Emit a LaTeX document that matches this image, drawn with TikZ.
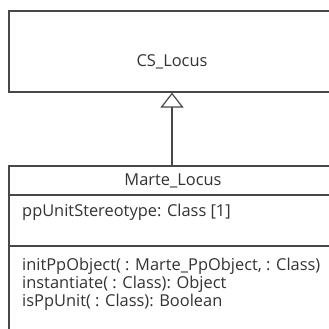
\documentclass[tikz,border=0pt]{standalone}
\usepackage{fontspec}
\setmainfont{Open Sans}
\usepackage{tikz}
\usetikzlibrary{arrows.meta, positioning}
\definecolor{umlline}{HTML}{484848}
\definecolor{umltext}{HTML}{333333}
\tikzstyle{classbox} = [rectangle, draw=umlline, line width=1.2pt, fill=white, minimum width=327pt, inner sep=0pt]
\tikzstyle{cname} = [font=\fontsize{16.4}{19}\selectfont, text=umltext, inner sep=0pt]
\tikzstyle{member} = [font=\fontsize{16.4}{19}\selectfont, text=umltext, inner sep=0pt, anchor=west]
\tikzstyle{gen} = [-{Triangle[open, length=15pt, width=23pt]}, line width=1.2pt, draw=umlline]

\begin{document}
\begin{tikzpicture}[x=1pt, y=-1pt]
  \useasboundingbox (0,0) rectangle (329,329);
  % superclass
  \node[classbox, minimum height=81pt] (cs) at (172.5,51.5) {};
  \node[cname] (csname) at (172,62) {CS\_Locus};
  % subclass with its compartments
  \node[classbox, minimum height=180pt] (marte) at (172.5,256) {};
  \node[cname] (martename) at (173,181) {Marte\_Locus};
  \draw[umlline, line width=1.2pt] (marte.west |- 0,195) -- (marte.east |- 0,195);
  \draw[umlline, line width=1.2pt] (marte.west |- 0,246) -- (marte.east |- 0,246);
  \node[member] (attr) at (22,212) {ppUnitStereotype: Class [1]};
  \node[member] (op1) at (22,266) {initPpObject( : Marte\_PpObject,  : Class)};
  \node[member] (op2) at (22,284) {instantiate( : Class): Object};
  \node[member] (op3) at (22,302) {isPpUnit( : Class): Boolean};
  % generalization
  \draw[gen] (marte.north -| 172,0) -- (cs.south -| 172,0);
\end{tikzpicture}
\end{document}
